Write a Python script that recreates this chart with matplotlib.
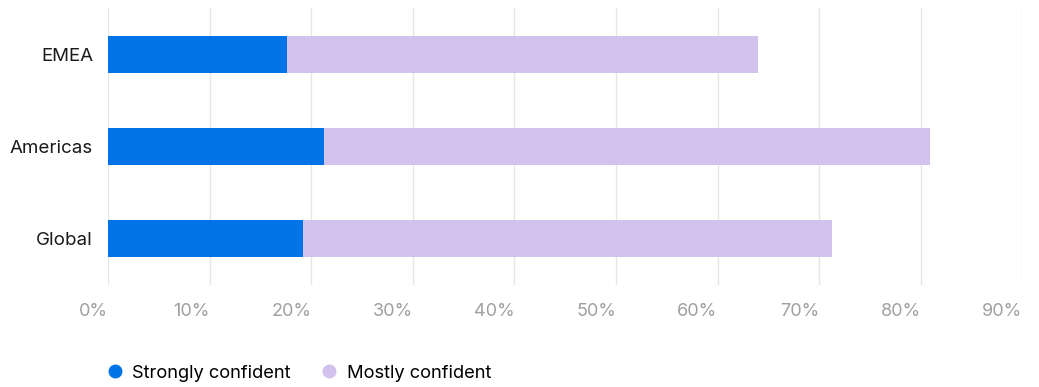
import matplotlib.pyplot as plt
from matplotlib.lines import Line2D
from matplotlib.ticker import FuncFormatter

plt.rcParams['font.family'] = ['Inter', 'DejaVu Sans']

# data
regions = ["EMEA", "Americas", "Global"]
strongly = [17.6, 21.2, 19.2]
mostly = [46.4, 59.7, 52.1]
series_names = ["Strongly confident", "Mostly confident"]
xticks = [0, 10, 20, 30, 40, 50, 60, 70, 80, 90]

blue = "#0073E6"
lavender = "#D4C2EE"

fig = plt.figure(figsize=(10.39, 3.87), dpi=100)
ax = fig.add_axes([0.1042, 0.2636, 0.8796, 0.7157])

ypos = list(range(len(regions)))
ax.barh(ypos, strongly, height=0.4, color=blue, zorder=3)
ax.barh(ypos, mostly, left=strongly, height=0.4, color=lavender, zorder=3)

ax.set_xlim(0, 90)
ax.set_ylim(2.5, -0.5)
ax.set_yticks(ypos)
ax.set_yticklabels(regions, fontsize=13.5, color="#1a1a1a")
ax.set_xticks(xticks)
ax.xaxis.set_major_formatter(FuncFormatter(lambda v, p: f"{int(v)}%"))
for lab in ax.get_xticklabels():
    lab.set_horizontalalignment("right")
ax.tick_params(axis="x", length=0, pad=13, labelsize=13, labelcolor="#a0a0a0")
ax.tick_params(axis="y", length=0, pad=11)

ax.grid(axis="x", color="#e6e6e6", linewidth=1, zorder=0)
for s in ax.spines.values():
    s.set_visible(False)

handles = [Line2D([], [], marker="o", linestyle="none", markersize=9,
                  markerfacecolor=c, markeredgecolor=c) for c in (blue, lavender)]
fig.legend(handles, series_names, loc="center left", bbox_to_anchor=(0.086, 0.036),
           frameon=False, fontsize=13.2, handletextpad=0.45, columnspacing=1.6,
           ncol=2, handlelength=1.0)

fig.savefig("out.png", dpi=100)
